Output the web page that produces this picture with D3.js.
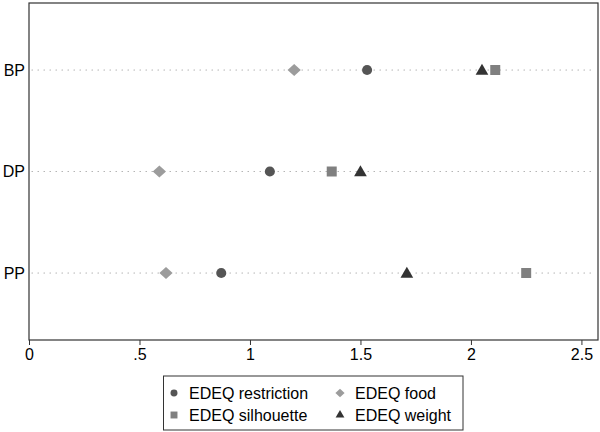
<!DOCTYPE html>
<html><head><meta charset="utf-8">
<script src="https://cdn.jsdelivr.net/npm/d3@7"></script>
<style>body{margin:0;background:#fff}svg{display:block}text{font-family:"Liberation Sans",Arial,sans-serif}</style>
</head><body><svg id="c" width="600" height="432"></svg>
<script>
const groups = ["BP","DP","PP"];
const seriesNames = ["EDEQ restriction","EDEQ food","EDEQ silhouette","EDEQ weight"];
const restriction = [1.53, 1.09, 0.87];
const food = [1.20, 0.59, 0.62];
const silhouette = [2.11, 1.37, 2.25];
const weight = [2.05, 1.50, 1.71];
const xTicks = [0, 0.5, 1, 1.5, 2, 2.5];
const xTickLabels = ["0", ".5", "1", "1.5", "2", "2.5"];

const svg = d3.select("#c");
const L = 29, R = 598, T = 3, B = 340;
const x = d3.scaleLinear().domain([0, 2.575]).range([L, R]);
const y = d3.scalePoint().domain(groups).range([T, B]).padding(0.66);

// rotated-square diamond symbol
const symbolWideDiamond = {
  draw(ctx, size) {
    const h = Math.sqrt(size / 2);
    ctx.moveTo(0, -h * 0.92); ctx.lineTo(h, 0); ctx.lineTo(0, h * 0.92); ctx.lineTo(-h, 0); ctx.closePath();
  }
};

// grid lines
svg.append("g").selectAll("line").data(groups).join("line")
  .attr("x1", L + 3).attr("x2", R - 2)
  .attr("y1", d => y(d)).attr("y2", d => y(d))
  .attr("stroke", "#b0b0b0").attr("stroke-width", 1.2)
  .attr("stroke-dasharray", "0.5,5.5").attr("stroke-linecap", "round");

// frame
svg.append("rect").attr("x", L).attr("y", T).attr("width", R - L).attr("height", B - T)
  .attr("fill", "none").attr("stroke", "#333").attr("stroke-width", 1.2);

// x axis
const xa = svg.append("g").attr("transform", `translate(0,${B})`)
  .call(d3.axisBottom(x).tickValues(xTicks).tickFormat((d, i) => xTickLabels[i]).tickSize(5).tickPadding(4));
xa.select(".domain").remove();
xa.selectAll("line").attr("stroke", "#333");
xa.selectAll("text").attr("font-size", 16).attr("fill", "#000");

// y axis
const ya = svg.append("g").attr("transform", `translate(${L},0)`)
  .call(d3.axisLeft(y).tickSize(0).tickPadding(4));
ya.select(".domain").remove();
ya.selectAll("text").attr("font-size", 16).attr("fill", "#000");

const styles = [
  {vals: restriction, type: d3.symbolCircle, size: 80, color: "#555555"},
  {vals: food, type: symbolWideDiamond, size: 88, color: "#9c9c9c"},
  {vals: silhouette, type: d3.symbolSquare, size: 100, color: "#808080"},
  {vals: weight, type: d3.symbolTriangle, size: 70, color: "#333333"}
];

styles.forEach(s => {
  svg.append("g").selectAll("path").data(s.vals).join("path")
    .attr("transform", (d, i) => `translate(${x(d)},${y(groups[i]) + (s.type === d3.symbolTriangle ? 1 : 0)})`)
    .attr("d", d3.symbol().type(s.type).size(s.size))
    .attr("fill", s.color);
});

// legend
const lg = svg.append("g");
lg.append("rect").attr("x", 163.5).attr("y", 376).attr("width", 299.5).attr("height", 54)
  .attr("fill", "#fff").attr("stroke", "#333").attr("stroke-width", 1);
const lpos = [[174, 393], [340, 393], [174, 415], [340, 415]];
[0, 1, 2, 3].forEach((k, i) => {
  const s = styles[k];
  const [lx, ly] = lpos[i];
  lg.append("path").attr("transform", `translate(${lx},${ly})`)
    .attr("d", d3.symbol().type(s.type).size(s.size * 0.48)).attr("fill", s.color);
  lg.append("text").attr("x", lx + 15).attr("y", ly + 6).attr("font-size", 16).attr("fill", "#000")
    .text(seriesNames[k]);
});
</script></body></html>
